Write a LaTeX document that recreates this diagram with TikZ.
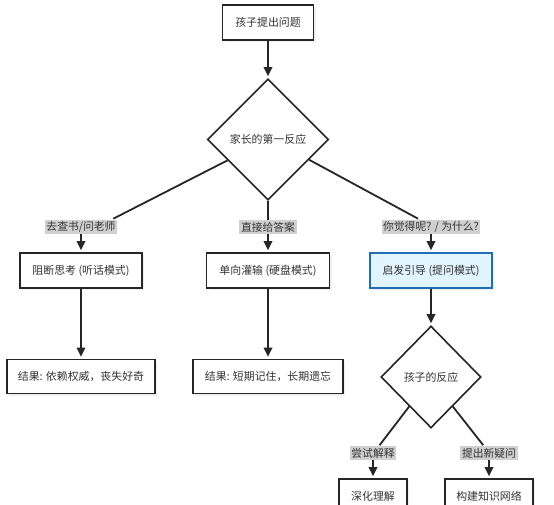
\documentclass[tikz,border=0pt]{standalone}
\usepackage{fontspec}
\setmainfont{Noto Sans CJK SC}
\usetikzlibrary{shapes.geometric,arrows.meta,calc,shadows}
\definecolor{ink}{HTML}{262626}
\definecolor{txt}{HTML}{333333}
\definecolor{lblbg}{HTML}{D0D0D0}
\definecolor{bluefill}{HTML}{E1F5FE}
\definecolor{blueline}{HTML}{1F6DB5}
\tikzset{
  box/.style={draw=ink, line width=1.6pt, fill=white, text=txt, minimum height=35pt,
    inner sep=0pt, font=\fontsize{10.9}{12}\selectfont,
    drop shadow={opacity=0.12, shadow xshift=2pt, shadow yshift=-2pt}},
  bluebox/.style={box, fill=bluefill, draw=blueline},
  decision/.style={diamond, draw=ink, line width=1.6pt, fill=white, text=txt, inner sep=0pt,
    font=\fontsize{10.9}{12}\selectfont},
  lbl/.style={fill=lblbg, text=txt, inner sep=1.6pt, font=\fontsize{10.8}{11}\selectfont},
  edge/.style={draw=ink, line width=1.8pt},
  arr/.style={edge, -{Triangle[length=9pt,width=8.5pt]}, shorten >=2pt},
}
\begin{document}
\begin{tikzpicture}[x=1pt,y=-1pt]
\fill[white] (0,0) rectangle (554,504);
\useasboundingbox (0,0) rectangle (554,504);
\clip (0,0) rectangle (554,504);

\node[box, minimum width=91pt] (q) at (268,22.5) {孩子提出问题};
\node[decision, minimum width=121pt, minimum height=121pt] (d1) at (268,139.5) {家长的第一反应};

\node[box, minimum width=122pt] (b1) at (81,270.5) {阻断思考 (听话模式)};
\node[box, minimum width=123pt] (b2) at (268,270.5) {单向灌输 (硬盘模式)};
\node[bluebox, minimum width=122pt] (b3) at (431,270.5) {启发引导 (提问模式)};

\node[box, minimum width=148pt, minimum height=34pt] (r1) at (81,376.5) {结果: 依赖权威，丧失好奇};
\node[box, minimum width=150pt, minimum height=34pt] (r2) at (268,376.5) {结果: 短期记住，长期遗忘};

\node[decision, minimum width=100pt, minimum height=102pt] (d2) at (431,377) {孩子的反应};

\node[box, minimum width=68pt] (c1) at (373,496.5) {深化理解};
\node[box, minimum width=88pt] (c2) at (489,496.5) {构建知识网络};

\node[lbl] (l1) at (81,227) {去查书/问老师};
\node[lbl] (l2) at (268,227) {直接给答案};
\node[lbl] (l3) at (431,227) {你觉得呢? / 为什么?};
\node[lbl] (l4) at (373,453) {尝试解释};
\node[lbl] (l5) at (489,453) {提出新疑问};

\draw[arr] (q.south) -- (d1.north);

\draw[edge] ($(d1.west)!0.34!(d1.south)$) -- ($(l1.north east)+(-4,-1)$);
\draw[arr] (l1.south) -- (b1.north);
\draw[edge] (d1.south) -- (l2.north);
\draw[arr] (l2.south) -- (b2.north);
\draw[edge] ($(d1.east)!0.33!(d1.south)$) -- ($(l3.north west)!0.37!(l3.north east)+(0,-1)$);
\draw[arr] (l3.south) -- (b3.north);

\draw[arr] (b1.south) -- (r1.north);
\draw[arr] (b2.south) -- (r2.north);
\draw[arr] (b3.south) -- (d2.north);

\draw[edge] ($(d2.west)!0.57!(d2.south)$) -- ($(l4.north west)!0.64!(l4.north east)+(0,-1)$);
\draw[arr] (l4.south) -- (c1.north);
\draw[edge] ($(d2.east)!0.57!(d2.south)$) -- ($(l5.north west)!0.4!(l5.north east)+(0,-1)$);
\draw[arr] (l5.south) -- (c2.north);
\end{tikzpicture}
\end{document}
